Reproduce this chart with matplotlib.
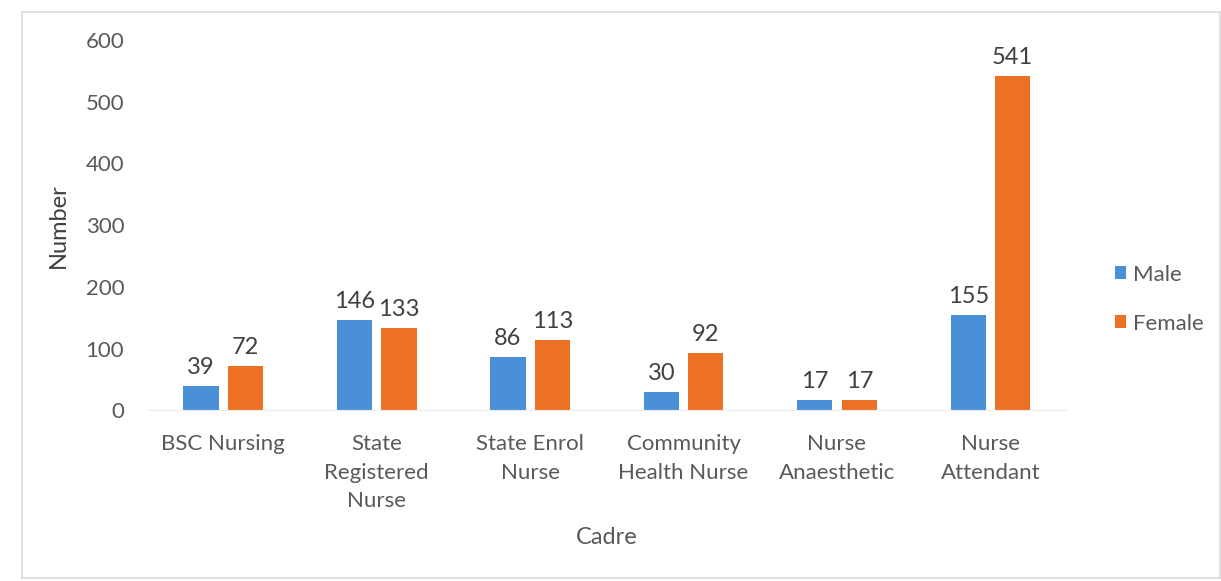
import matplotlib
matplotlib.use("Agg")
import matplotlib.pyplot as plt
from matplotlib.patches import Rectangle
import numpy as np

categories = ["BSC Nursing", "State\nRegistered\nNurse", "State Enrol\nNurse",
              "Community\nHealth Nurse", "Nurse\nAnaesthetic", "Nurse\nAttendant"]
male = [39, 146, 86, 30, 17, 155]
female = [72, 133, 113, 92, 17, 541]
yticks = [0, 100, 200, 300, 400, 500, 600]

plt.rcParams['font.family'] = ['Lato', 'DejaVu Sans']
TXT = "#595959"
MALE_C = "#4A90D9"
FEMALE_C = "#ED7125"

fig = plt.figure(figsize=(12.21, 5.81), dpi=100)
ax = fig.add_axes([0.12, 0.294, 0.754, 0.637])

x = np.arange(len(categories))
w = 0.23
gap = 0.03
b1 = ax.bar(x - w/2 - gap, male, w, color=MALE_C, label="Male")
b2 = ax.bar(x + w/2 + gap, female, w, color=FEMALE_C, label="Female")

for bars, vals in ((b1, male), (b2, female)):
    for r, v in zip(bars, vals):
        ax.text(r.get_x() + r.get_width()/2, v + 13, str(v), ha="center", va="bottom",
                fontsize=17, color="#404040")

ax.set_xlim(-0.5, len(categories) - 0.5)
ax.set_ylim(0, 600)
ax.set_yticks(yticks)
ax.set_yticklabels([str(t) for t in yticks], fontsize=16, color=TXT)
ax.set_xticks(x)
ax.set_xticklabels(categories, fontsize=16, color=TXT, linespacing=1.55)
ax.tick_params(axis="both", length=0)
ax.tick_params(axis="x", pad=17)
ax.tick_params(axis="y", pad=16)
for s in ["top", "right", "left"]:
    ax.spines[s].set_visible(False)
ax.spines["bottom"].set_color("#EDEDED")

ax.set_ylabel("Number", fontsize=17, color="#404040", labelpad=12)
ax.set_xlabel("Cadre", fontsize=17, color=TXT, labelpad=11)

leg = ax.legend(loc="center left", bbox_to_anchor=(1.03, 0.3), frameon=False,
                fontsize=16, handlelength=0.5, handleheight=0.5, handletextpad=0.3,
                labelspacing=1.3, labelcolor=TXT)

fig.patches.append(Rectangle((22/1221, 3/581), 1 - 22/1221 - 0.001, 1 - 15/581,
                             transform=fig.transFigure, fill=False,
                             edgecolor="#D9D9D9", linewidth=1.2))

fig.savefig("out.png", dpi=100)
